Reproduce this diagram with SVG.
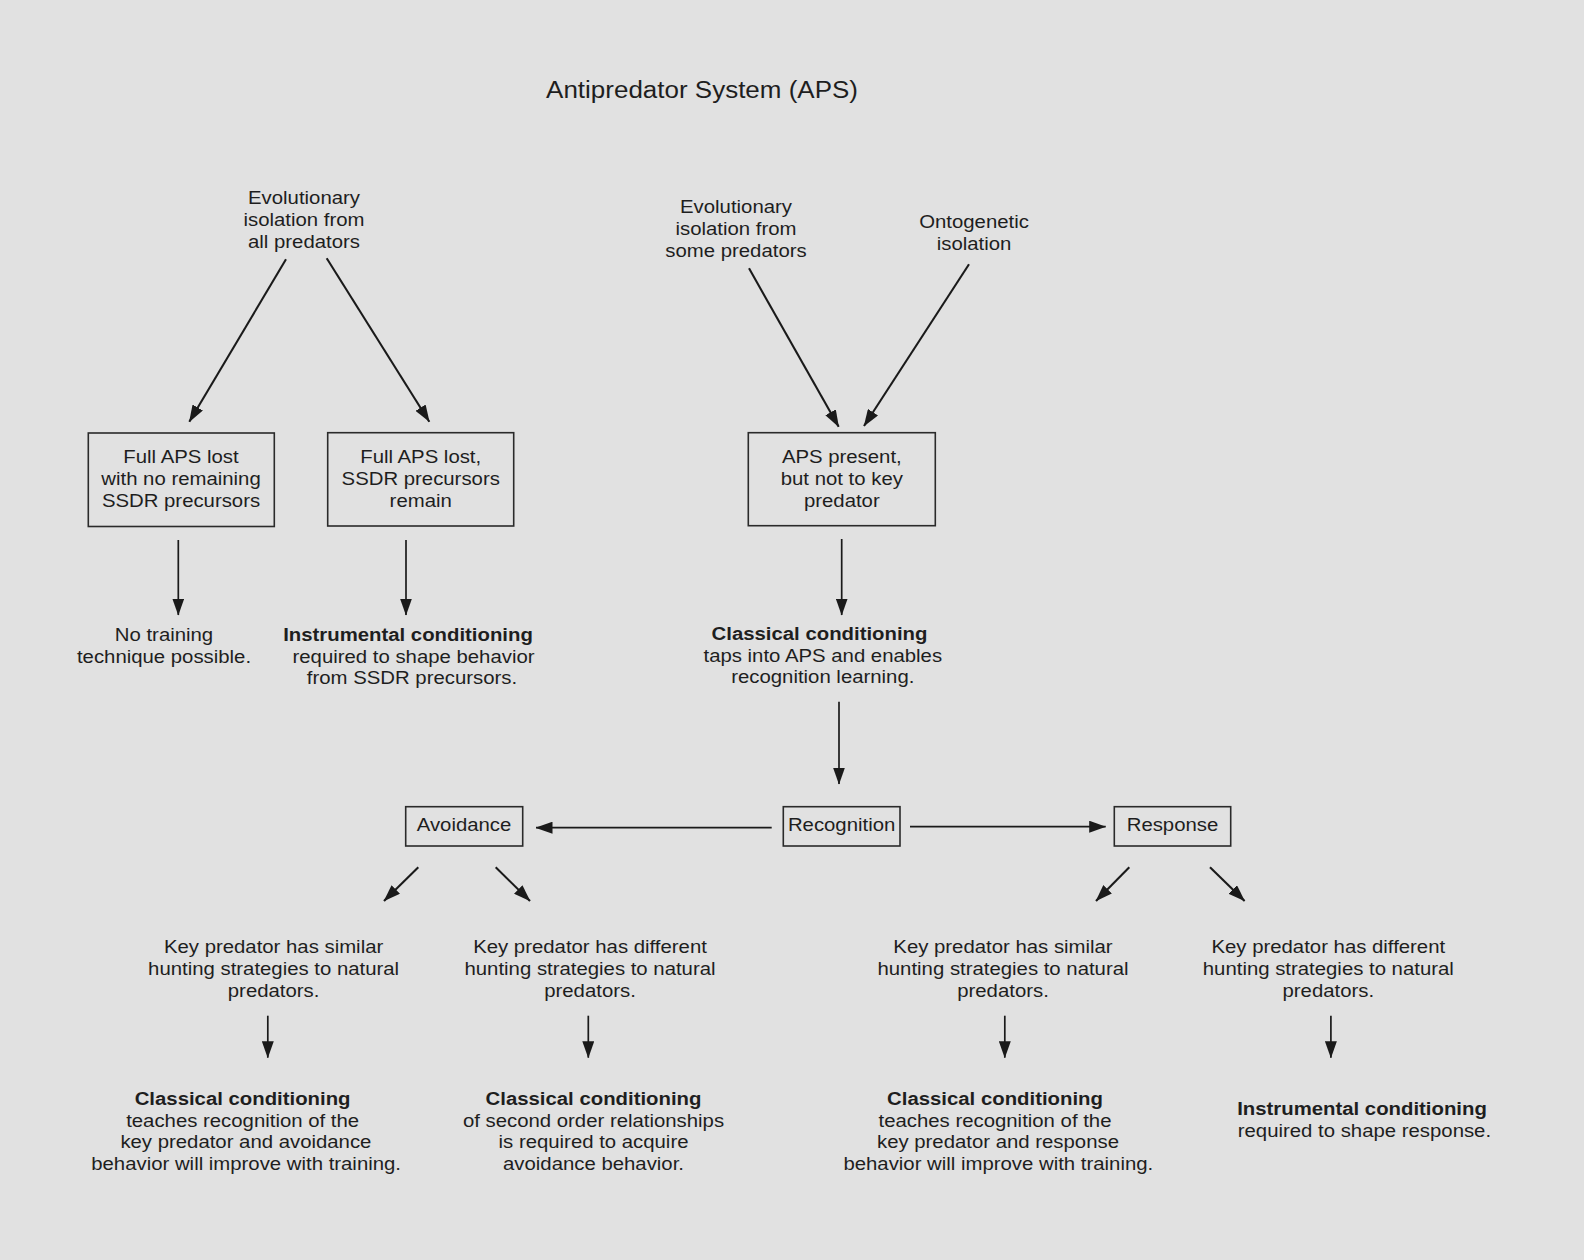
<svg xmlns="http://www.w3.org/2000/svg" width="1584" height="1260" viewBox="0 0 1584 1260">
<defs>
<style>
text{font-family:"Liberation Sans",Arial,Helvetica,sans-serif;font-size:18.5px;fill:#1e1e1e;text-anchor:middle}
.b{font-weight:bold}
.title{font-size:23px}
.box{fill:none;stroke:#2a2a2a;stroke-width:1.6}
.c line{stroke:#1a1a1a;stroke-width:1.7;marker-end:url(#ah)}
.c line.d{stroke-width:2.1}
</style>
<marker id="ah" markerUnits="userSpaceOnUse" markerWidth="17" markerHeight="12" viewBox="0 0 17 12" refX="16.5" refY="6" orient="auto">
<path d="M0,0 L17,6 L0,12 z" fill="#1a1a1a"/>
</marker>
</defs>
<rect x="0" y="0" width="1584" height="1260" fill="#e1e1e1"/>

<g id="title"><text class="title" transform="translate(702,98) scale(1.13,1)">Antipredator System (APS)</text></g>

<g id="evo-all"><text transform="translate(304,204.3) scale(1.1,1)"><tspan x="0" y="0">Evolutionary</tspan><tspan x="0" y="21.7">isolation from</tspan><tspan x="0" y="43.4">all predators</tspan></text></g>
<g id="evo-some"><text transform="translate(736,213.3) scale(1.1,1)"><tspan x="0" y="0">Evolutionary</tspan><tspan x="0" y="21.7">isolation from</tspan><tspan x="0" y="43.4">some predators</tspan></text></g>
<g id="onto"><text transform="translate(974,228.3) scale(1.1,1)"><tspan x="0" y="0">Ontogenetic</tspan><tspan x="0" y="21.7">isolation</tspan></text></g>

<g id="box-lost"><rect class="box" x="88.3" y="433" width="186" height="93.5"/><text transform="translate(181,463.3) scale(1.1,1)"><tspan x="0" y="0">Full APS lost</tspan><tspan x="0" y="21.7">with no remaining</tspan><tspan x="0" y="43.4">SSDR precursors</tspan></text></g>
<g id="box-precursors"><rect class="box" x="327.7" y="432.7" width="186" height="93.3"/><text transform="translate(420.7,463.3) scale(1.1,1)"><tspan x="0" y="0">Full APS lost,</tspan><tspan x="0" y="21.7">SSDR precursors</tspan><tspan x="0" y="43.4">remain</tspan></text></g>
<g id="box-present"><rect class="box" x="748.3" y="432.7" width="187" height="93"/><text transform="translate(841.8,463.3) scale(1.1,1)"><tspan x="0" y="0">APS present,</tspan><tspan x="0" y="21.7">but not to key</tspan><tspan x="0" y="43.4">predator</tspan></text></g>

<g id="no-training"><text transform="translate(164,641) scale(1.1,1)"><tspan x="0" y="0">No training</tspan><tspan x="0" y="21.7">technique possible.</tspan></text></g>
<g id="instr-1"><text transform="translate(408,641) scale(1.1,1)"><tspan class="b" x="0" y="0">Instrumental conditioning</tspan><tspan x="5" y="21.7">required to shape behavior</tspan><tspan x="3.6" y="43.4">from SSDR precursors.</tspan></text></g>
<g id="classical-1"><text transform="translate(819.5,640) scale(1.1,1)"><tspan class="b" x="0" y="0">Classical conditioning</tspan><tspan x="3" y="21.7">taps into APS and enables</tspan><tspan x="3" y="43.4">recognition learning.</tspan></text></g>

<g id="avoidance"><rect class="box" x="405.7" y="806.7" width="117" height="39.3"/><text transform="translate(464,830.7) scale(1.1,1)">Avoidance</text></g>
<g id="recognition"><rect class="box" x="783.3" y="806.7" width="116.7" height="39.3"/><text transform="translate(841.6,830.7) scale(1.1,1)">Recognition</text></g>
<g id="response"><rect class="box" x="1114.3" y="806.7" width="116.4" height="39.3"/><text transform="translate(1172.5,830.7) scale(1.1,1)">Response</text></g>

<g id="av-similar"><text transform="translate(273.6,953.3) scale(1.1,1)"><tspan x="0" y="0">Key predator has similar</tspan><tspan x="0" y="21.7">hunting strategies to natural</tspan><tspan x="0" y="43.4">predators.</tspan></text></g>
<g id="av-different"><text transform="translate(590,953.3) scale(1.1,1)"><tspan x="0" y="0">Key predator has different</tspan><tspan x="0" y="21.7">hunting strategies to natural</tspan><tspan x="0" y="43.4">predators.</tspan></text></g>
<g id="re-similar"><text transform="translate(1003,953.3) scale(1.1,1)"><tspan x="0" y="0">Key predator has similar</tspan><tspan x="0" y="21.7">hunting strategies to natural</tspan><tspan x="0" y="43.4">predators.</tspan></text></g>
<g id="re-different"><text transform="translate(1328.3,953.3) scale(1.1,1)"><tspan x="0" y="0">Key predator has different</tspan><tspan x="0" y="21.7">hunting strategies to natural</tspan><tspan x="0" y="43.4">predators.</tspan></text></g>

<g id="av-classical"><text transform="translate(242.6,1105) scale(1.1,1)"><tspan class="b" x="0" y="0">Classical conditioning</tspan><tspan x="0" y="21.7">teaches recognition of the</tspan><tspan x="3" y="43.4">key predator and avoidance</tspan><tspan x="3.2" y="65.1">behavior will improve with training.</tspan></text></g>
<g id="av-second"><text transform="translate(593.5,1105) scale(1.1,1)"><tspan class="b" x="0" y="0">Classical conditioning</tspan><tspan x="0" y="21.7">of second order relationships</tspan><tspan x="0" y="43.4">is required to acquire</tspan><tspan x="0" y="65.1">avoidance behavior.</tspan></text></g>
<g id="re-classical"><text transform="translate(995,1105) scale(1.1,1)"><tspan class="b" x="0" y="0">Classical conditioning</tspan><tspan x="0" y="21.7">teaches recognition of the</tspan><tspan x="2.7" y="43.4">key predator and response</tspan><tspan x="3" y="65.1">behavior will improve with training.</tspan></text></g>
<g id="re-instr"><text transform="translate(1362,1115) scale(1.1,1)"><tspan class="b" x="0" y="0">Instrumental conditioning</tspan><tspan x="2.2" y="21.7">required to shape response.</tspan></text></g>

<g id="connectors" class="c">
<line class="d" x1="286" y1="259.3" x2="189.3" y2="421.7"/>
<line class="d" x1="326.7" y1="258.3" x2="429.3" y2="421.7"/>
<line class="d" x1="749" y1="268.3" x2="838.7" y2="426.7"/>
<line class="d" x1="969" y1="264.3" x2="864" y2="426"/>
<line x1="178.3" y1="540" x2="178.3" y2="615"/>
<line x1="406" y1="540" x2="406" y2="615"/>
<line x1="841.7" y1="539" x2="841.7" y2="615"/>
<line x1="839" y1="701.7" x2="839" y2="784"/>
<line x1="771.7" y1="827.7" x2="536" y2="827.7"/>
<line x1="910" y1="826.7" x2="1105.7" y2="826.7"/>
<line class="d" x1="418.3" y1="867.3" x2="384" y2="901"/>
<line class="d" x1="495.7" y1="867.3" x2="530" y2="901"/>
<line class="d" x1="1129.3" y1="867.3" x2="1096" y2="901"/>
<line class="d" x1="1210" y1="867.3" x2="1244.6" y2="901"/>
<line x1="267.8" y1="1015.7" x2="267.8" y2="1057.7"/>
<line x1="588.3" y1="1015.7" x2="588.3" y2="1057.7"/>
<line x1="1004.8" y1="1015.7" x2="1004.8" y2="1057.7"/>
<line x1="1330.9" y1="1015.7" x2="1330.9" y2="1057.7"/>
</g>
</svg>
